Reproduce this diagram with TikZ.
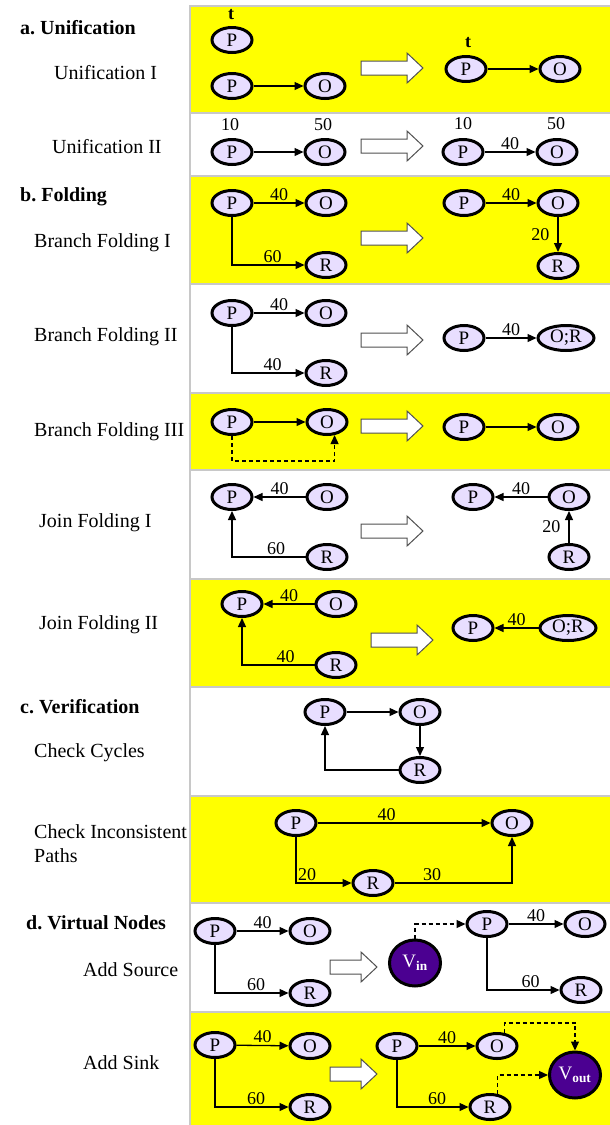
\documentclass[tikz,border=0pt]{standalone}
\usepackage{fontspec}
\setmainfont{Liberation Serif}
\usepackage{tikz}
\usetikzlibrary{shapes,arrows.meta,positioning,calc}
\definecolor{panelyellow}{RGB}{255,255,0}
\definecolor{panelgrey}{RGB}{200,200,200}
\definecolor{nodelilac}{RGB}{232,222,255}
\definecolor{virtpurple}{RGB}{75,0,145}
\definecolor{arrowgrey}{RGB}{80,80,80}
\tikzset{
    vtx/.style={draw, ellipse, line width=3pt, fill=#1, inner sep=0pt,
                minimum width=40pt, minimum height=25pt,
                font=\fontsize{19}{19}\selectfont},
    vtx/.default=nodelilac,
    widevtx/.style={vtx, minimum width=56pt},
    virt/.style={vtx=virtpurple, text=white,
                 minimum width=51pt, minimum height=46pt},
    arr/.style={-{Triangle[length=9pt,width=8pt]}, line width=1.3pt},
    darr/.style={arr, dash pattern=on 4pt off 3pt},
    wt/.style={font=\fontsize{18}{18}\selectfont, inner sep=2pt},
    rowname/.style={anchor=west, inner sep=0pt, align=left,
                    font=\fontsize{20}{24}\selectfont},
    secname/.style={anchor=west, inner sep=0pt,
                    font=\fontsize{20}{24}\selectfont\bfseries},
    panel/.style={draw=panelgrey, line width=1.5pt, fill=#1},
    pics/fatarrow/.style={code={
        \draw[line width=1pt, draw=arrowgrey, fill=white]
            (0,-7) -- (#1-16,-7) -- (#1-16,-15) -- (#1,0)
            -- (#1-16,15) -- (#1-16,7) -- (0,7) -- cycle;}},
}
\begin{document}
\begin{tikzpicture}[x=1pt, y=-1pt]
    \useasboundingbox (0,0) rectangle (610,1125);

    \draw[panel=panelyellow] (190,6) rectangle (612,113);
    \draw[panel=white] (190,113) rectangle (612,176);
    \draw[panel=panelyellow] (190,176) rectangle (612,284);
    \draw[panel=white] (190,284) rectangle (612,393);
    \draw[panel=panelyellow] (190,393) rectangle (612,470);
    \draw[panel=white] (190,470) rectangle (612,579);
    \draw[panel=panelyellow] (190,579) rectangle (612,687);
    \draw[panel=white] (190,687) rectangle (612,796);
    \draw[panel=panelyellow] (190,796) rectangle (612,903);
    \draw[panel=white] (190,903) rectangle (612,1012);
    \draw[panel=panelyellow] (190,1012) rectangle (612,1128);

    \node[secname] (seca) at (20,28) {a.\ Unification};
    \node[rowname] (rowu1) at (54,73) {Unification I};
    \node[rowname] (rowu2) at (52,147) {Unification II};
    \node[secname] (secb) at (20,197) {b.\ Folding};
    \node[rowname] (rowb1) at (34,243) {Branch Folding I};
    \node[rowname] (rowb2) at (34,337) {Branch Folding II};
    \node[rowname] (rowb3) at (34,432) {Branch Folding III};
    \node[rowname] (rowj1) at (39,523) {Join Folding I};
    \node[rowname] (rowj2) at (39,625) {Join Folding II};
    \node[secname] (secc) at (20,707) {c.\ Verification};
    \node[rowname] (rowc1) at (34,753) {Check Cycles};
    \node[rowname] (rowc2) at (34,844) {Check Inconsistent\\Paths};
    \node[secname] (secd) at (26,923) {d.\ Virtual Nodes};
    \node[rowname] (rows) at (83,970) {Add Source};
    \node[rowname] (rowk) at (83,1063) {Add Sink};

    % unification I
    \node[vtx] (u1p0) at (232,40) {P};
    \node[wt, font=\fontsize{18}{18}\selectfont\bfseries] (u1t0) at (231,15) {t};
    \node[vtx] (u1p) at (232,86) {P};
    \node[vtx] (u1o) at (325,86) {O};
    \draw[arr] (u1p) -- (u1o);
    \pic at (361,68) {fatarrow=62};
    \node[vtx] (u1pr) at (466,69) {P};
    \node[wt, font=\fontsize{18}{18}\selectfont\bfseries] (u1tr) at (468,43) {t};
    \node[vtx] (u1or) at (560,69) {O};
    \draw[arr] (u1pr) -- (u1or);

    % unification II
    \node[vtx] (u2p) at (232,152) {P};
    \node[wt] (u2pw) at (230,125) {10};
    \node[vtx] (u2o) at (325,152) {O};
    \node[wt] (u2ow) at (323,125) {50};
    \draw[arr] (u2p) -- (u2o);
    \pic at (361,146) {fatarrow=62};
    \node[vtx] (u2pr) at (463,152) {P};
    \node[wt] (u2prw) at (463,124) {10};
    \node[vtx] (u2or) at (557,152) {O};
    \node[wt] (u2orw) at (556,124) {50};
    \draw[arr] (u2pr) -- node[wt, above] {40} (u2or);

    % branch folding I
    \node[vtx] (b1p) at (232,203) {P};
    \node[vtx] (b1o) at (326,203) {O};
    \node[vtx] (b1r) at (326,265) {R};
    \draw[arr] (b1p) -- node[wt, above] {40} (b1o);
    \draw[arr] (b1p) |- node[wt, above, pos=0.78] {60} (b1r);
    \pic at (361,238) {fatarrow=62};
    \node[vtx] (b1pr) at (464,203) {P};
    \node[vtx] (b1or) at (558,203) {O};
    \node[vtx] (b1rr) at (558,266) {R};
    \draw[arr] (b1pr) -- node[wt, above] {40} (b1or);
    \draw[arr] (b1or) -- node[wt, left=6pt] {20} (b1rr);

    % branch folding II
    \node[vtx] (b2p) at (232,313) {P};
    \node[vtx] (b2o) at (326,313) {O};
    \node[vtx] (b2r) at (326,373) {R};
    \draw[arr] (b2p) -- node[wt, above] {40} (b2o);
    \draw[arr] (b2p) |- node[wt, above, pos=0.78] {40} (b2r);
    \pic at (361,340) {fatarrow=62};
    \node[vtx] (b2pr) at (464,338) {P};
    \node[widevtx] (b2orr) at (566,338) {O;R};
    \draw[arr] (b2pr) -- node[wt, above] {40} (b2orr);

    % branch folding III
    \node[vtx] (b3p) at (232,422) {P};
    \node[vtx] (b3o) at (327,422) {O};
    \draw[arr] (b3p) -- (b3o);
    \draw[darr] (b3p) -- ++(0,39) -| (b3o.-60);
    \pic at (361,426) {fatarrow=62};
    \node[vtx] (b3pr) at (464,427) {P};
    \node[vtx] (b3or) at (558,427) {O};
    \draw[arr] (b3pr) -- (b3or);

    % join folding I
    \node[vtx] (j1p) at (232,497) {P};
    \node[vtx] (j1o) at (327,497) {O};
    \node[vtx] (j1r) at (327,557) {R};
    \draw[arr] (j1o) -- node[wt, above] {40} (j1p);
    \draw[arr] (j1r) -| node[wt, above, pos=0.2] {60} (j1p);
    \pic at (361,531) {fatarrow=62};
    \node[vtx] (j1pr) at (473,497) {P};
    \node[vtx] (j1or) at (569,497) {O};
    \node[vtx] (j1rr) at (569,557) {R};
    \draw[arr] (j1or) -- node[wt, above] {40} (j1pr);
    \draw[arr] (j1rr) -- node[wt, left=6pt] {20} (j1or);

    % join folding II
    \node[vtx] (j2p) at (242,604) {P};
    \node[vtx] (j2o) at (336,604) {O};
    \node[vtx] (j2r) at (336,665) {R};
    \draw[arr] (j2o) -- node[wt, above] {40} (j2p);
    \draw[arr] (j2r) -| node[wt, above, pos=0.2] {40} (j2p);
    \pic at (371,640) {fatarrow=62};
    \node[vtx] (j2pr) at (473,628) {P};
    \node[widevtx] (j2orr) at (568,628) {O;R};
    \draw[arr] (j2orr) -- node[wt, above] {40} (j2pr);

    % check cycles
    \node[vtx] (c1p) at (325,712) {P};
    \node[vtx] (c1o) at (420,712) {O};
    \node[vtx] (c1r) at (420,770) {R};
    \draw[arr] (c1p) -- (c1o);
    \draw[arr] (c1o) -- (c1r);
    \draw[arr] (c1r) -| (c1p);

    % check inconsistent paths
    \node[vtx] (c2p) at (296,823) {P};
    \node[vtx] (c2o) at (512,823) {O};
    \node[vtx] (c2r) at (373,883) {R};
    \draw[arr] (c2p) -- node[wt, above, pos=0.4] {40} (c2o);
    \draw[arr] (c2p) |- node[wt, above, pos=0.6] {20} (c2r);
    \draw[arr] (c2r) -| node[wt, above, pos=0.16] {30} (c2o);

    % add source
    \node[vtx] (s1p) at (215,931) {P};
    \node[vtx] (s1o) at (310,931) {O};
    \node[vtx] (s1r) at (310,993) {R};
    \draw[arr] (s1p) -- node[wt, above] {40} (s1o);
    \draw[arr] (s1p) |- node[wt, above, pos=0.78] {60} (s1r);
    \pic at (330,967) {fatarrow=47};
    \node[virt] (vin) at (415,963) {V\textsubscript{\bfseries in}};
    \node[vtx] (s2p) at (487,924) {P};
    \node[vtx] (s2o) at (585,924) {O};
    \node[vtx] (s2r) at (581,990) {R};
    \draw[darr] (vin) |- (s2p);
    \draw[arr] (s2p) -- node[wt, above] {40} (s2o);
    \draw[arr] (s2p) |- node[wt, above, pos=0.8] {60} (s2r);

    % add sink
    \node[vtx] (k1p) at (215,1045) {P};
    \node[vtx] (k1o) at (310,1046) {O};
    \node[vtx] (k1r) at (310,1107) {R};
    \draw[arr] (k1p) -- node[wt, above] {40} (k1o);
    \draw[arr] (k1p) |- node[wt, above, pos=0.78] {60} (k1r);
    \pic at (330,1074) {fatarrow=47};
    \node[vtx] (k2p) at (397,1046) {P};
    \node[vtx] (k2o) at (497,1046) {O};
    \node[vtx] (k2r) at (490,1107) {R};
    \node[virt] (vout) at (575,1075) {V\textsubscript{\bfseries out}};
    \draw[arr] (k2p) -- node[wt, above] {40} (k2o);
    \draw[arr] (k2p) |- node[wt, above, pos=0.78] {60} (k2r);
    \draw[darr] (k2o.60) -- ++(0,-10) -| (vout);
    \draw[darr] (k2r.60) |- (vout);
\end{tikzpicture}
\end{document}
